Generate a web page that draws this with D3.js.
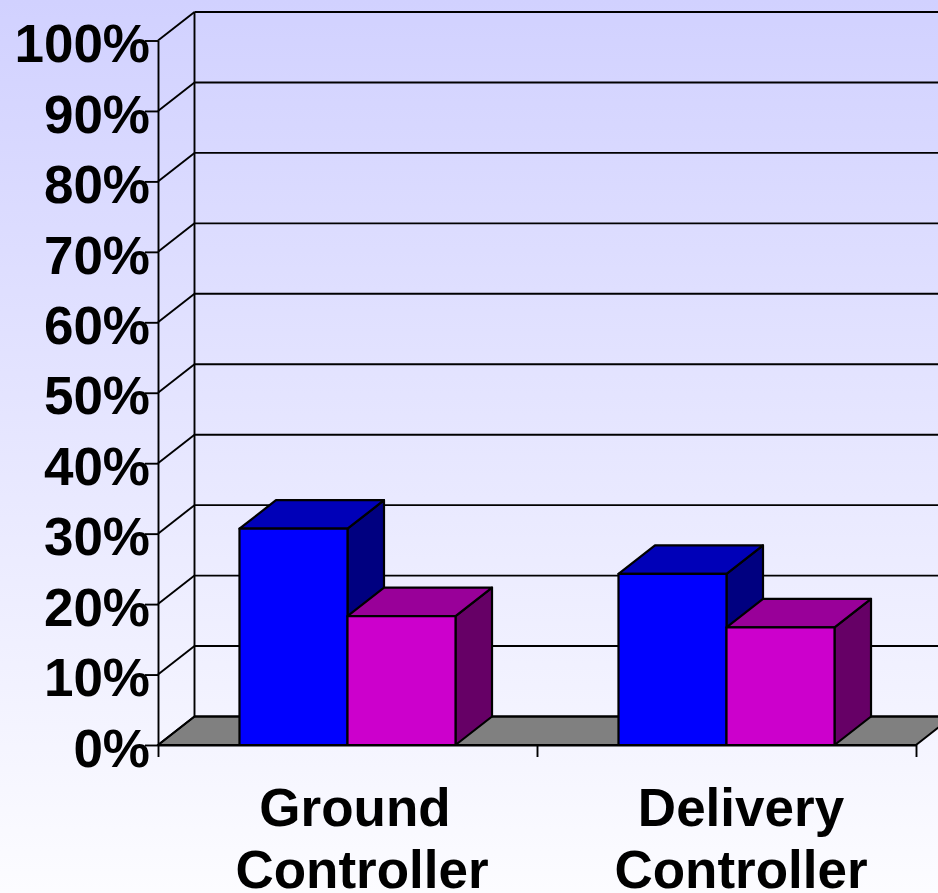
<!DOCTYPE html>
<html>
<head>
<meta charset="utf-8">
<script src="https://d3js.org/d3.v7.min.js"></script>
<style>
	html, body { margin: 0; padding: 0; background: #fff; overflow: hidden; }
	svg { display: block; }
	text { font-family: "Liberation Sans", Arial, sans-serif; font-weight: bold; fill: #000; }
</style>
</head>
<body>
<div class="chart"></div>
<script>
var categories = ["Ground Controller", "Delivery Controller"];
var seriesNames = ["first", "second"];
var firstValues = [30.7, 24.3];
var secondValues = [18.3, 16.7];
var tickValues = [0, 10, 20, 30, 40, 50, 60, 70, 80, 90, 100];

var width = 938,
    height = 893,
    left = 158,
    bottom = 745,
    top100 = 40.5,
    depthX = 36.5,
    depthY = -28.5,
    fontSize = 53,
    lineW = 1.9;

var svg = d3.select(".chart").append("svg")
	.attr("width", width)
	.attr("height", height);

var grad = svg.append("defs").append("linearGradient")
	.attr("id", "bg")
	.attr("x1", 0).attr("y1", 0).attr("x2", 0).attr("y2", 1);
grad.append("stop").attr("offset", "0%").attr("stop-color", "#d1d1ff");
grad.append("stop").attr("offset", "100%").attr("stop-color", "#fcfcff");

svg.append("rect")
	.attr("width", width)
	.attr("height", height)
	.attr("fill", "url(#bg)");

var y = d3.scaleLinear().domain([0, 100]).range([bottom, top100]);

var x = d3.scaleBand()
	.domain(categories)
	.range([left, left + 758])
	.paddingInner(0.43)
	.paddingOuter(0.215);

var xSeries = d3.scaleBand()
	.domain(seriesNames)
	.range([0, x.bandwidth()]);

var line = d3.line();
function poly(points) { return line(points) + "Z"; }

// floor
var floorRight = left + 758;
svg.append("path")
	.attr("d", poly([
		[left, y(0)],
		[left + depthX, y(0) + depthY],
		[width + 40, y(0) + depthY],
		[floorRight + depthX, y(0) + depthY],
		[floorRight, y(0)]
	]))
	.attr("fill", "#808080")
	.attr("stroke", "#000")
	.attr("stroke-width", lineW);

// back wall gridlines and the slanted side wall lines
var grid = svg.append("g").attr("fill", "none").attr("stroke", "#000").attr("stroke-width", lineW);

grid.selectAll(".back")
	.data(tickValues)
	.enter().append("line")
	.attr("class", "back")
	.attr("x1", left + depthX)
	.attr("x2", width)
	.attr("y1", function(d) { return y(d) + depthY; })
	.attr("y2", function(d) { return y(d) + depthY; });

grid.selectAll(".side")
	.data(tickValues)
	.enter().append("line")
	.attr("class", "side")
	.attr("x1", left)
	.attr("x2", left + depthX)
	.attr("y1", function(d) { return y(d); })
	.attr("y2", function(d) { return y(d) + depthY; });

grid.append("line")
	.attr("x1", left + depthX)
	.attr("x2", left + depthX)
	.attr("y1", y(100) + depthY)
	.attr("y2", y(0) + depthY);

// y axis
var yAxis = d3.axisLeft(y)
	.tickValues(tickValues)
	.tickSize(13)
	.tickSizeOuter(0)
	.tickFormat(function(d) { return d + "%"; });

var gy = svg.append("g")
	.attr("transform", "translate(" + left + ",0)")
	.call(yAxis);
gy.selectAll("line, path").attr("stroke", "#000").attr("stroke-width", lineW);
gy.selectAll("text")
	.attr("x", -8)
	.attr("dy", "0.4em")
	.style("font-size", fontSize + "px")
	.style("font-family", "'Liberation Sans', Arial, sans-serif")
	.style("font-weight", "bold");

// x axis
var xEdges = d3.scalePoint().domain(d3.range(categories.length + 1)).range([left, floorRight]);
var xAxis = d3.axisBottom(xEdges).tickSize(12).tickSizeOuter(0).tickFormat("");
var gx = svg.append("g")
	.attr("transform", "translate(0," + y(0) + ")")
	.call(xAxis);
gx.selectAll("line, path").attr("stroke", "#000").attr("stroke-width", lineW);

// bars, left to right so later faces sit over earlier ones
function drawBar(g, name, value, front, side, topFace) {
	var x0 = xSeries(name),
	    x1 = x0 + xSeries.bandwidth(),
	    y0 = y(0),
	    y1 = y(value);
	g.append("path")
		.attr("d", poly([[x1, y0], [x1 + depthX, y0 + depthY], [x1 + depthX, y1 + depthY], [x1, y1]]))
		.attr("fill", side);
	g.append("path")
		.attr("d", poly([[x0, y1], [x0 + depthX, y1 + depthY], [x1 + depthX, y1 + depthY], [x1, y1]]))
		.attr("fill", topFace);
	g.append("path")
		.attr("d", poly([[x0, y0], [x0, y1], [x1, y1], [x1, y0]]))
		.attr("fill", front);
}

var bars = svg.selectAll(".cat")
	.data(categories)
	.enter().append("g")
	.attr("class", "cat")
	.attr("transform", function(d) { return "translate(" + x(d) + ",0)"; })
	.attr("stroke", "#000")
	.attr("stroke-width", 2.2)
	.attr("stroke-linejoin", "round");

bars.each(function(d, i) {
	var g = d3.select(this);
	drawBar(g, "first", firstValues[i], "#0000ff", "#000080", "#0000b8");
	drawBar(g, "second", secondValues[i], "#cc00cc", "#660066", "#990099");
});

// category labels, two lines each
var labels = svg.selectAll(".label")
	.data(categories)
	.enter().append("text")
	.attr("class", "label")
	.attr("text-anchor", "middle")
	.style("font-size", fontSize + "px");

labels.each(function(d) {
	var cx = x(d) + x.bandwidth() / 2 + 14.5;
	var words = d.split(" ");
	d3.select(this).selectAll("tspan")
		.data(words)
		.enter().append("tspan")
		.attr("x", function(w, i) { return cx + (w === "Ground" ? -7 : 0); })
		.attr("y", function(w, i) { return 826 + i * 62; })
		.text(function(w) { return w; });
});
</script>
</body>
</html>
